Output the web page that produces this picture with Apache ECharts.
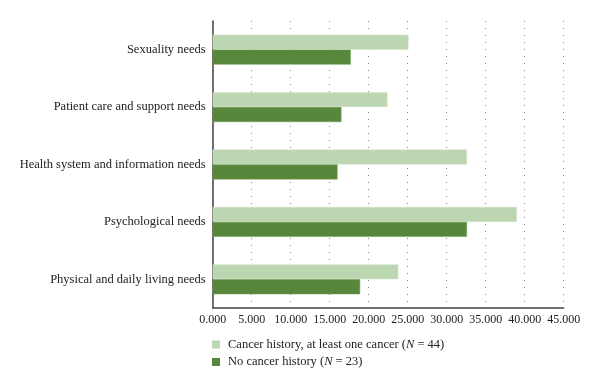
<!DOCTYPE html>
<html><head><meta charset="utf-8">
<script src="https://cdn.jsdelivr.net/npm/echarts@6/dist/echarts.min.js"></script>
<style>html,body{margin:0;padding:0;background:#fff}#c{width:600px;height:389px}</style>
</head><body><div id="c"></div>
<script>
var categories = ["Physical and daily living needs","Psychological needs","Health system and information needs","Patient care and support needs","Sexuality needs"];
var cancerHistory = [23.8, 39.0, 32.6, 22.4, 25.1];
var noCancerHistory = [18.9, 32.6, 16.0, 16.5, 17.7];
var seriesNames = ["Cancer history, at least one cancer (N = 44)","No cancer history (N = 23)"];
var font = "Liberation Serif";
var chart = echarts.init(document.getElementById('c'));
chart.setOption({
  animation:false,
  textStyle:{fontFamily:font},
  grid:{left:212.7,top:21,width:351,height:287,containLabel:false},
  legend:{
    orient:'vertical', left:207, top:333, itemWidth:8, itemHeight:8, itemGap:4.5,
    icon:'rect', selectedMode:false,
    itemStyle:{borderWidth:0},
    textStyle:{fontFamily:font,fontSize:12.5,color:'#222',padding:[0,0,0,3],
      rich:{i:{fontStyle:'italic',fontFamily:font,fontSize:12.5,color:'#222'},n:{fontFamily:font,fontSize:12.5,color:'#222'}}},
    formatter:function(name){
      var k=name.lastIndexOf('(N');
      return '{n|'+name.slice(0,k+1)+'}{i|N}{n|'+name.slice(k+2)+'}';
    },
    data:seriesNames
  },
  xAxis:{type:'value',min:0,max:45,interval:5,
    axisLine:{show:true,lineStyle:{color:'#444',width:1.5}},
    axisTick:{show:false},
    axisLabel:{color:'#222',fontSize:12,fontFamily:font,margin:6,formatter:function(v){return v.toFixed(3);}},
    splitLine:{show:true,lineStyle:{color:'#888',type:[1,6],width:1}}
  },
  yAxis:{type:'category',data:categories,
    axisLine:{show:true,lineStyle:{color:'#444',width:1.5}},
    axisTick:{show:false},
    axisLabel:{color:'#222',fontSize:12.5,fontFamily:font,margin:7}
  },
  series:[
    {name:seriesNames[0],type:'bar',data:cancerHistory,barGap:'0%',barCategoryGap:'48%',
     itemStyle:{color:'#bdd6b2',borderColor:'#d2e3ca',borderWidth:0.5}},
    {name:seriesNames[1],type:'bar',data:noCancerHistory,
     itemStyle:{color:'#57873a',borderColor:'#6e9a55',borderWidth:0.5}}
  ]
});
</script></body></html>
